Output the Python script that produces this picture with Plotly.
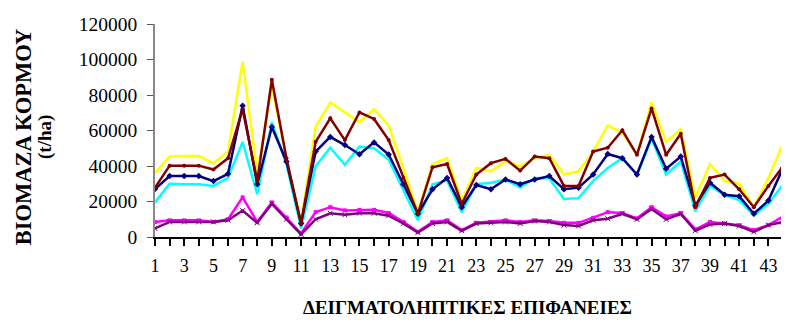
import plotly.graph_objects as go

x = list(range(1, 45))

yellow = [36000, 45300, 45600, 45600, 41600, 48100, 98800, 36100, 85000, 44000,
          8500, 62000, 75800, 70000, 64700, 72000, 62900, 38900, 14000, 41000,
          44400, 20500, 38900, 37000, 42600, 39800, 44400, 46300, 35200, 37000,
          48100, 62900, 58500, 46300, 75800, 53600, 60600, 22300, 41100, 31500,
          30000, 16800, 33300, 52700]
maroon = [27800, 40200, 40200, 40200, 38000, 44400, 72000, 31500, 88600, 44400,
          7600, 53600, 66900, 54600, 70200, 66500, 54600, 33300, 13100, 39300,
          41100, 18600, 35200, 41600, 44000, 37400, 45300, 44400, 28800, 28800,
          48100, 50300, 60100, 46300, 72400, 46300, 58200, 16800, 33300, 35200,
          26900, 16800, 28800, 39800]
navy = [27000, 34300, 34300, 34300, 31500, 35600, 73900, 29700, 62000, 42600,
        7600, 48100, 56400, 51800, 46600, 53300, 46500, 29700, 13100, 26900,
        33300, 16800, 29300, 26900, 32400, 29700, 32400, 34300, 26900, 27800,
        35200, 46800, 44400, 35200, 56400, 38500, 45300, 17700, 30600, 23800,
        23000, 13100, 20500, 38900]
cyan = [19500, 30000, 29700, 29700, 28800, 33300, 53600, 24100, 64700, 41000,
        4800, 39800, 50300, 40700, 50900, 50000, 43500, 26000, 9400, 29700,
        31900, 14000, 29700, 30600, 32400, 27800, 33300, 33000, 21400, 21900,
        31500, 38900, 44400, 34800, 55500, 35200, 42600, 14600, 28800, 23800,
        20800, 12200, 18600, 29700]
magenta = [8500, 9400, 9400, 9400, 8500, 10000, 22300, 8500, 19500, 11000,
           2000, 14000, 16800, 15000, 15300, 15300, 13500, 8500, 2900, 8500,
           9400, 3900, 8000, 8500, 9400, 8500, 9400, 9000, 8000, 8000,
           10800, 14000, 13500, 10500, 16800, 11600, 13500, 4300, 8500, 7600,
           6700, 3900, 6700, 11600]
purple = [4800, 8500, 8500, 8500, 8500, 9400, 14900, 8000, 18700, 10000,
          1500, 10000, 13400, 12500, 13400, 13400, 12000, 7600, 2500, 7600,
          8500, 3500, 7600, 8000, 8500, 7600, 9000, 8500, 6700, 6200,
          9400, 10300, 13000, 9900, 15800, 9900, 13000, 3500, 7100, 7600,
          6200, 2900, 6700, 8500]

x_ticktext = [str(i) if i % 2 == 1 else "" for i in x]
y_ticks = [0, 20000, 40000, 60000, 80000, 100000, 120000]

FONT = "Liberation Serif"

fig = go.Figure()

def add(y, color, symbol=None, msize=4):
    if symbol is None:
        fig.add_trace(go.Scatter(x=x, y=y, mode="lines",
                                 line=dict(color=color, width=2.5),
                                 showlegend=False))
    else:
        fig.add_trace(go.Scatter(x=x, y=y, mode="lines+markers",
                                 line=dict(color=color, width=2.5),
                                 marker=dict(color=color, symbol=symbol, size=msize),
                                 showlegend=False))

add(yellow, "#FFFF00")
add(cyan, "#00FFFF")
add(navy, "#000080", "diamond", 5)
add(magenta, "#FF00FF", "square", 4)
add(purple, "#800080", "x-thin-open", 5)
add(maroon, "#800000", "circle", 4)

fig.update_layout(
    width=781, height=315,
    margin=dict(l=147, r=6, t=12, b=86),
    paper_bgcolor="white", plot_bgcolor="white",
    font=dict(family=FONT, color="black", size=18),
    xaxis=dict(
        range=[1, 44], tickmode="array", tickvals=x, ticktext=x_ticktext,
        ticks="outside", ticklen=7, tickwidth=1.5, tickcolor="black",
        showline=True, linecolor="black", linewidth=1.5,
        showgrid=False, zeroline=False,
        tickfont=dict(family=FONT, size=18),
        ticklabelstandoff=5,
    ),
    yaxis=dict(
        range=[0, 120000], tickmode="array", tickvals=y_ticks,
        ticktext=[str(v) for v in y_ticks],
        ticks="outside", ticklen=6, tickwidth=1.2, tickcolor="#555555",
        showline=True, linecolor="#888888", linewidth=1.5,
        showgrid=False, zeroline=False,
        tickfont=dict(family=FONT, size=19.5),
        ticklabelstandoff=6,
    ),
    annotations=[
        dict(text="<b>ΒΙΟΜΑΖΑ ΚΟΡΜΟΥ</b>", textangle=-90, xref="paper", yref="paper",
             x=-0.208, y=0.47, showarrow=False, font=dict(family=FONT, size=22.5),
             xanchor="center", yanchor="middle"),
        dict(text="<b>(t/ha)</b>", textangle=-90, xref="paper", yref="paper",
             x=-0.175, y=0.47, showarrow=False, font=dict(family=FONT, size=19),
             xanchor="center", yanchor="middle"),
        dict(text="<b>ΔΕΙΓΜΑΤΟΛΗΠΤΙΚΕΣ ΕΠΙΦΑΝΕΙΕΣ</b>", xref="paper", yref="paper",
             x=0.497, y=-0.33, showarrow=False, font=dict(family=FONT, size=19),
             xanchor="center", yanchor="middle"),
    ],
)

fig.write_html("out.html")
